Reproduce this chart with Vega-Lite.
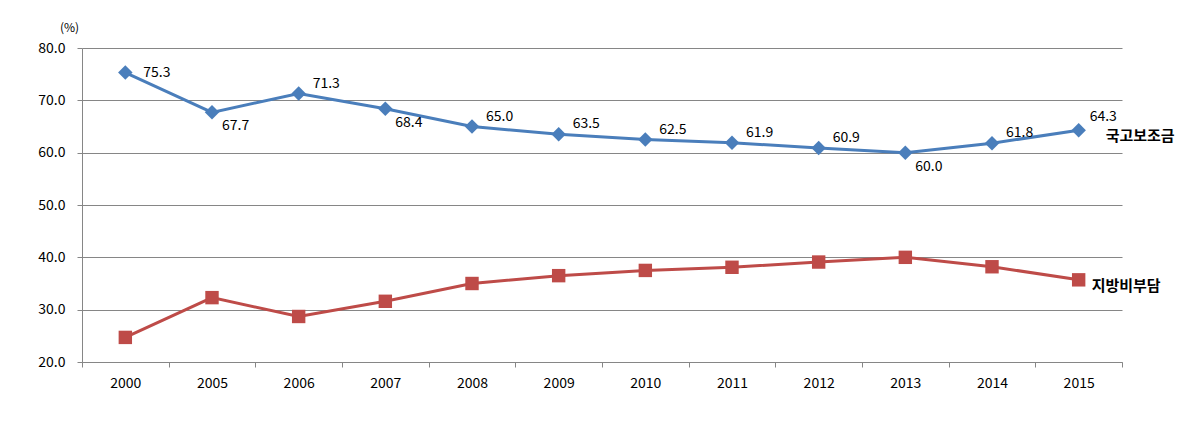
{
  "$schema": "https://vega.github.io/schema/vega-lite/v6.json",
  "width": 1040,
  "height": 314,
  "autosize": {"type": "none"},
  "padding": {"left": 82, "top": 48, "right": 76, "bottom": 79},
  "background": "white",
  "config": {
    "view": {"stroke": null},
    "font": "Noto Sans CJK KR",
    "axis": {"labelFont": "Noto Sans CJK KR", "labelFontSize": 14, "labelColor": "#000000", "domainColor": "#868686", "tickColor": "#868686", "gridColor": "#868686", "tickSize": 5}
  },
  "data": {
    "values": [
      {"year": "2000", "series": "국고보조금", "value": 75.3},
      {"year": "2005", "series": "국고보조금", "value": 67.7},
      {"year": "2006", "series": "국고보조금", "value": 71.3},
      {"year": "2007", "series": "국고보조금", "value": 68.4},
      {"year": "2008", "series": "국고보조금", "value": 65.0},
      {"year": "2009", "series": "국고보조금", "value": 63.5},
      {"year": "2010", "series": "국고보조금", "value": 62.5},
      {"year": "2011", "series": "국고보조금", "value": 61.9},
      {"year": "2012", "series": "국고보조금", "value": 60.9},
      {"year": "2013", "series": "국고보조금", "value": 60.0},
      {"year": "2014", "series": "국고보조금", "value": 61.8},
      {"year": "2015", "series": "국고보조금", "value": 64.3},
      {"year": "2000", "series": "지방비부담", "value": 24.7},
      {"year": "2005", "series": "지방비부담", "value": 32.3},
      {"year": "2006", "series": "지방비부담", "value": 28.7},
      {"year": "2007", "series": "지방비부담", "value": 31.6},
      {"year": "2008", "series": "지방비부담", "value": 35.0},
      {"year": "2009", "series": "지방비부담", "value": 36.5},
      {"year": "2010", "series": "지방비부담", "value": 37.5},
      {"year": "2011", "series": "지방비부담", "value": 38.1},
      {"year": "2012", "series": "지방비부담", "value": 39.1},
      {"year": "2013", "series": "지방비부담", "value": 40.0},
      {"year": "2014", "series": "지방비부담", "value": 38.2},
      {"year": "2015", "series": "지방비부담", "value": 35.7}
    ]
  },
  "encoding": {
    "x": {
      "field": "year", "type": "ordinal",
      "scale": {"paddingInner": 0, "paddingOuter": 0},
      "axis": {"title": null, "labelAngle": 0, "tickBand": "extent", "grid": false, "labelPadding": 9, "domainWidth": 1}
    },
    "y": {
      "field": "value", "type": "quantitative",
      "scale": {"domain": [20, 80], "nice": false, "zero": false},
      "axis": {"values": [20, 30, 40, 50, 60, 70, 80], "format": ".1f", "labelPadding": 12, "title": "(%)", "titleAngle": 0, "titleFontSize": 12, "titleFontWeight": "normal", "titleFont": "Noto Sans CJK KR", "titleX": -13, "titleY": -14, "titleAlign": "center", "titleColor": "#000000", "gridColor": "#868686"}
    },
    "color": {
      "field": "series", "type": "nominal",
      "scale": {"domain": ["국고보조금", "지방비부담"], "range": ["#4A7EBB", "#BE4B48"]},
      "legend": null
    }
  },
  "layer": [
    {"mark": {"type": "line", "strokeWidth": 3}},
    {
      "transform": [{"filter": "datum.series === '국고보조금'"}],
      "mark": {"type": "point", "shape": "diamond", "filled": true, "size": 210, "opacity": 1}
    },
    {
      "transform": [{"filter": "datum.series === '지방비부담'"}],
      "mark": {"type": "point", "shape": "square", "filled": true, "size": 180, "opacity": 1}
    },
    {
      "transform": [{"filter": "datum.series === '국고보조금' && datum.year === '2000'"}],
      "mark": {"type": "text", "align": "left", "baseline": "middle", "dx": 18, "dy": 0, "fontSize": 14},
      "encoding": {"text": {"field": "value", "format": ".1f"}, "color": {"value": "#000000"}}
    },
    {
      "transform": [{"filter": "datum.series === '국고보조금' && indexof(['2005','2007','2013'], datum.year) >= 0"}],
      "mark": {"type": "text", "align": "left", "baseline": "middle", "dx": 10, "dy": 14, "fontSize": 14},
      "encoding": {"text": {"field": "value", "format": ".1f"}, "color": {"value": "#000000"}}
    },
    {
      "transform": [{"filter": "datum.series === '국고보조금' && indexof(['2000','2005','2007','2013','2015'], datum.year) < 0"}],
      "mark": {"type": "text", "align": "left", "baseline": "middle", "dx": 14, "dy": -10, "fontSize": 14},
      "encoding": {"text": {"field": "value", "format": ".1f"}, "color": {"value": "#000000"}}
    },
    {
      "transform": [{"filter": "datum.series === '국고보조금' && datum.year === '2015'"}],
      "mark": {"type": "text", "align": "left", "baseline": "middle", "dx": 11, "dy": -13, "fontSize": 14},
      "encoding": {"text": {"field": "value", "format": ".1f"}, "color": {"value": "#000000"}}
    },
    {
      "transform": [{"filter": "datum.year === '2015' && datum.series === '국고보조금'"}],
      "mark": {"type": "text", "align": "left", "baseline": "middle", "dx": 27, "dy": 6, "fontSize": 15, "fontWeight": "bold"},
      "encoding": {"text": {"field": "series"}, "color": {"value": "#000000"}}
    },
    {
      "transform": [{"filter": "datum.year === '2015' && datum.series === '지방비부담'"}],
      "mark": {"type": "text", "align": "left", "baseline": "middle", "dx": 13, "dy": 6, "fontSize": 15, "fontWeight": "bold"},
      "encoding": {"text": {"field": "series"}, "color": {"value": "#000000"}}
    }
  ]
}
